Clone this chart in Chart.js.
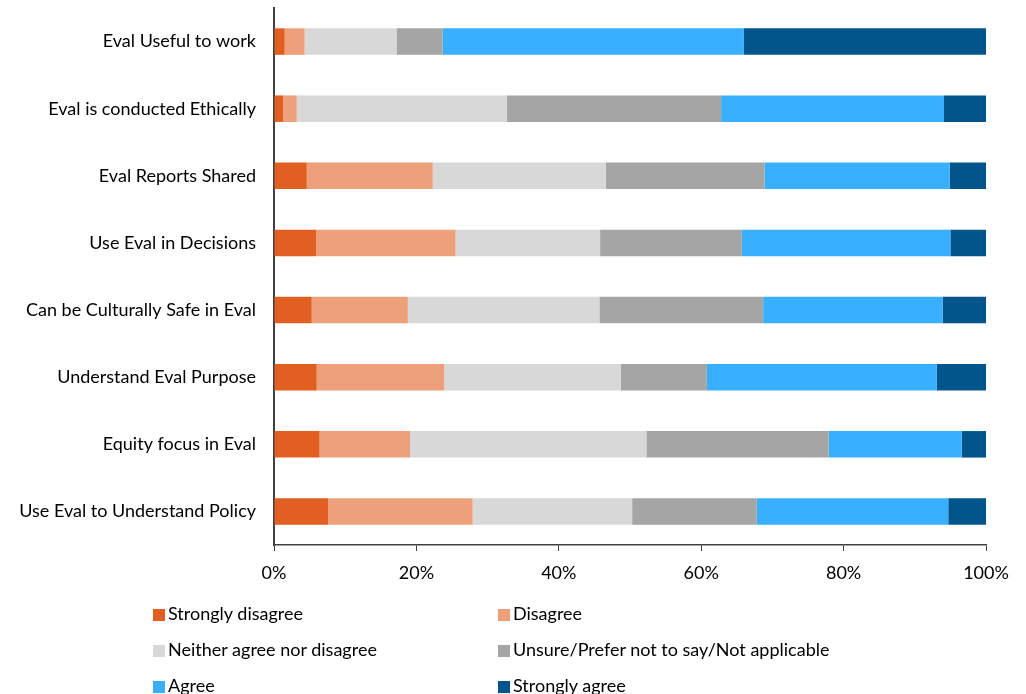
<!DOCTYPE html>
<html>
<head>
<meta charset="utf-8">
<script src="https://cdn.jsdelivr.net/npm/chart.js@4"></script>
<style>
    html, body { margin: 0; padding: 0; background: #fff; }
    #wrap { position: relative; width: 1026px; height: 694px; }
    #legend { position: absolute; left: 153px; top: 603px; width: 780px; font-family: Lato, sans-serif; font-size: 18px; color: #000; }
    .item { position: absolute; white-space: nowrap; line-height: 20px; }
    .box { display: inline-block; width: 12px; height: 12px; margin-right: 3px; vertical-align: -1px; }
</style>
</head>
<body>
<div id="wrap">
    <canvas id="chart" width="1026" height="694"></canvas>
    <div id="legend"></div>
</div>
<script>
// categorias (de arriba hacia abajo)
var categories = [
    "Eval Useful to work",
    "Eval is conducted Ethically",
    "Eval Reports Shared",
    "Use Eval in Decisions",
    "Can be Culturally Safe in Eval",
    "Understand Eval Purpose",
    "Equity focus in Eval",
    "Use Eval to Understand Policy"
];

var seriesNames = [
    "Strongly disagree",
    "Disagree",
    "Neither agree nor disagree",
    "Unsure/Prefer not to say/Not applicable",
    "Agree",
    "Strongly agree"
];

var seriesColors = ["#E15F20", "#EDA07A", "#D8D8D8", "#A5A5A5", "#38AFFF", "#01558B"];

// porcentajes
var stronglyDisagree = [1.5, 1.3, 4.6, 5.9, 5.3, 6.0, 6.4, 7.6];
var disagree         = [2.8, 1.9, 17.7, 19.6, 13.5, 17.9, 12.7, 20.3];
var neither          = [12.9, 29.5, 24.3, 20.3, 26.9, 24.8, 33.2, 22.4];
var unsure           = [6.5, 30.1, 22.3, 19.9, 23.0, 12.1, 25.6, 17.5];
var agree            = [42.3, 31.3, 26.0, 29.3, 25.2, 32.3, 18.7, 26.9];
var stronglyAgree    = [34.0, 5.9, 5.1, 5.0, 6.1, 6.9, 3.4, 5.3];

var xTicks = [0, 20, 40, 60, 80, 100];

var seriesData = [stronglyDisagree, disagree, neither, unsure, agree, stronglyAgree];

var datasets = seriesData.map(function (d, i) {
    return {
        label: seriesNames[i],
        data: d,
        backgroundColor: seriesColors[i],
        borderWidth: 0,
        categoryPercentage: 0.79,
        barPercentage: 0.5
    };
});

var fontFamily = "Lato, sans-serif";

new Chart(document.getElementById("chart").getContext("2d"), {
    type: "bar",
    data: { labels: categories, datasets: datasets },
    options: {
        indexAxis: "y",
        responsive: false,
        animation: false,
        layout: { padding: { left: 0, right: 40, top: 8, bottom: 0 } },
        plugins: {
            legend: { display: false },
            tooltip: { enabled: false }
        },
        scales: {
            x: {
                stacked: true,
                min: 0,
                max: 100,
                afterBuildTicks: function (scale) {
                    scale.ticks = xTicks.map(function (v) { return { value: v }; });
                },
                afterFit: function (scale) { scale.height = 149; },
                grid: { drawOnChartArea: false, drawTicks: true, tickLength: 6, color: "#404040", lineWidth: 1 },
                border: { display: true, color: "#404040", width: 1.5 },
                ticks: {
                    padding: 11,
                    maxRotation: 0,
                    color: "#000",
                    font: { family: fontFamily, size: 18 },
                    callback: function (v) { return v + "%"; }
                }
            },
            y: {
                stacked: true,
                afterFit: function (scale) {
                    scale.width = 274;
                    // sin relleno extra arriba/abajo para que el area empiece en y=8
                    scale.paddingTop = 0;
                    scale.paddingBottom = 0;
                },
                grid: { display: false, drawTicks: false },
                border: { display: true, color: "#404040", width: 2 },
                ticks: {
                    padding: 18,
                    color: "#000",
                    font: { family: fontFamily, size: 18 }
                }
            }
        }
    }
});

// leyenda en dos columnas
var legend = document.getElementById("legend");
seriesNames.forEach(function (name, i) {
    var item = document.createElement("div");
    item.className = "item";
    item.style.left = (i % 2 === 0 ? 0 : 345) + "px";
    item.style.top = (Math.floor(i / 2) * 36) + "px";
    item.innerHTML = '<span class="box" style="background:' + seriesColors[i] + '"></span>' + name;
    legend.appendChild(item);
});
</script>
</body>
</html>
